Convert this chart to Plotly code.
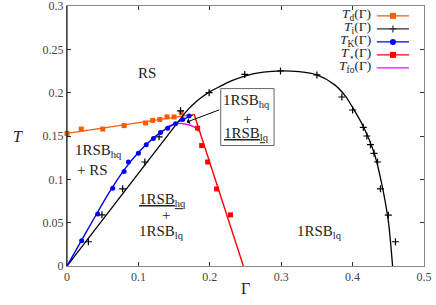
import plotly.graph_objects as go

# ---------------- data ----------------
# T_d(Gamma): points and fitted line
td_g = [0.0, 0.02, 0.05, 0.08, 0.11, 0.12, 0.13, 0.14, 0.15, 0.16]
td_t = [0.153, 0.158, 0.158, 0.162, 0.165, 0.168, 0.169, 0.172, 0.172, 0.177]
td_line_g = [0.0, 0.178]
td_line_t = [0.153, 0.175]

# T_i(Gamma): points and curve
ti_g = [0.03, 0.049, 0.078, 0.109, 0.129, 0.159, 0.199, 0.249, 0.299, 0.35,
        0.385, 0.40, 0.415, 0.42, 0.425, 0.43, 0.435, 0.439, 0.45, 0.46]
ti_t = [0.028, 0.059, 0.089, 0.12, 0.149, 0.179, 0.200, 0.221, 0.225, 0.2205,
        0.195, 0.180, 0.160, 0.150, 0.140, 0.130, 0.120, 0.089, 0.0587, 0.028]
ti_curve_g = [0.0, 0.08, 0.16, 0.17, 0.18, 0.19, 0.2, 0.215, 0.23, 0.25, 0.275,
              0.3, 0.325, 0.35, 0.375, 0.39, 0.40, 0.415, 0.43, 0.44, 0.45, 0.456]
ti_curve_t = [0.0, 0.0855, 0.171, 0.181, 0.189, 0.1955, 0.2012, 0.2075, 0.2135,
              0.2195, 0.2237, 0.2252, 0.2242, 0.2205, 0.209, 0.196, 0.183,
              0.161, 0.131, 0.098, 0.052, 0.0]

# T_K(Gamma): points and curve
tk_g = [0.0205, 0.043, 0.064, 0.080, 0.086, 0.100, 0.111, 0.121, 0.131, 0.141,
        0.152, 0.162, 0.171]
tk_t = [0.029, 0.060, 0.0896, 0.109, 0.120, 0.130, 0.140, 0.147, 0.154, 0.159,
        0.164, 0.169, 0.173]
tk_curve_g = [0.0, 0.02, 0.04, 0.06, 0.08, 0.10, 0.12, 0.14, 0.16, 0.176]
tk_curve_t = [0.0, 0.029, 0.058, 0.086, 0.111, 0.131, 0.147, 0.159, 0.168, 0.174]

# T_star(Gamma): points and line
ts_g = [0.183, 0.1886, 0.197, 0.2096, 0.229]
ts_t = [0.159, 0.139, 0.120, 0.0889, 0.059]
ts_line_g = [0.178, 0.247]
ts_line_t = [0.175, 0.0]

# T_fo(Gamma): curve
tfo_g = [0.138, 0.15, 0.16, 0.17, 0.178, 0.186]
tfo_t = [0.1595, 0.1635, 0.1645, 0.163, 0.1605, 0.155]

x_ticks = [0, 0.1, 0.2, 0.3, 0.4, 0.5]
y_ticks = [0, 0.05, 0.1, 0.15, 0.2, 0.25, 0.3]

ORANGE = "#ff5a00"
BLACK = "#000000"
BLUE = "#0000ff"
RED = "#ff0000"
MAGENTA = "#ff00ff"
FONT = "Liberation Serif"
TXT = "#222222"

fig = go.Figure()

# magenta first (drawn beneath)
fig.add_trace(go.Scatter(x=tfo_g, y=tfo_t, mode="lines", line=dict(color=MAGENTA, width=1.4, shape="spline"), showlegend=False))
# T_d
fig.add_trace(go.Scatter(x=td_line_g, y=td_line_t, mode="lines", line=dict(color=ORANGE, width=1.4), showlegend=False))
fig.add_trace(go.Scatter(x=td_g, y=td_t, mode="markers", marker=dict(symbol="square", size=5, color=ORANGE), cliponaxis=False, showlegend=False))
# T_i
fig.add_trace(go.Scatter(x=ti_curve_g, y=ti_curve_t, mode="lines", line=dict(color=BLACK, width=1.3, shape="spline", smoothing=0.8), showlegend=False))
fig.add_trace(go.Scatter(x=ti_g, y=ti_t, mode="markers", marker=dict(symbol="cross-thin", size=5, line=dict(color=BLACK, width=1.2)), showlegend=False))
# T_K
fig.add_trace(go.Scatter(x=tk_curve_g, y=tk_curve_t, mode="lines", line=dict(color=BLUE, width=1.4, shape="spline"), showlegend=False))
fig.add_trace(go.Scatter(x=tk_g, y=tk_t, mode="markers", marker=dict(symbol="circle", size=5, color=BLUE), showlegend=False))
# T_star
fig.add_trace(go.Scatter(x=ts_line_g, y=ts_line_t, mode="lines", line=dict(color=RED, width=1.4), showlegend=False))
fig.add_trace(go.Scatter(x=ts_g, y=ts_t, mode="markers", marker=dict(symbol="square", size=5, color=RED), showlegend=False))

# ---------------- custom legend (symbol right of text) ----------------
leg_labels = ["<i>T</i><sub>d</sub>(Γ)", "<i>T</i><sub>i</sub>(Γ)", "<i>T</i><sub>K</sub>(Γ)",
              "<i>T</i><sub>⋆</sub>(Γ)", "<i>T</i><sub>fo</sub>(Γ)"]
leg_colors = [ORANGE, "#333333", BLUE, RED, MAGENTA]
leg_symbols = ["square", "cross-thin", "circle", "square", None]
leg_y = [0.962, 0.912, 0.862, 0.812, 0.762]
lx0, lxm, lx1, ltext = 0.868, 0.913, 0.958, 0.857
for lab_, col, sym, yy in zip(leg_labels, leg_colors, leg_symbols, leg_y):
    fig.add_trace(go.Scatter(x=[lx0, lx1], y=[yy, yy], mode="lines", line=dict(color=col, width=1.4),
                             xaxis="x2", yaxis="y2", showlegend=False, hoverinfo="skip"))
    if sym is not None:
        if sym == "cross-thin":
            mk = dict(symbol=sym, size=5, line=dict(color=col, width=1.2))
        else:
            mk = dict(symbol=sym, size=6, color=col)
        fig.add_trace(go.Scatter(x=[lxm], y=[yy], mode="markers", marker=mk,
                                 xaxis="x2", yaxis="y2", showlegend=False, hoverinfo="skip"))
    fig.add_annotation(x=ltext, y=yy + 0.006, xref="x2", yref="y2", text=lab_, showarrow=False,
                       xanchor="right", yanchor="middle", font=dict(family=FONT, size=13.5, color=TXT))

# ---------------- region labels ----------------
def lab(x, y, text, xanchor="center", size=15):
    fig.add_annotation(x=x, y=y, xref="x", yref="y", text=text, showarrow=False,
                       xanchor=xanchor, yanchor="middle", font=dict(family=FONT, size=size, color=TXT))

lab(0.1127, 0.2225, "RS")
lab(0.0084, 0.1324, "1RSB<sub>hq</sub>", xanchor="left")
lab(0.0112, 0.111, "+ RS", xanchor="left")
lab(0.134, 0.0765, "<u>1RSB<sub>hq</sub></u>")
lab(0.138, 0.059, "+")
lab(0.133, 0.0397, "1RSB<sub>lq</sub>")
lab(0.3536, 0.0397, "1RSB<sub>lq</sub>")
# boxed label
lab(0.252, 0.1904, "1RSB<sub>hq</sub>")
lab(0.252, 0.170, "+")
lab(0.252, 0.152, "<u>1RSB<sub>lq</sub></u>")
fig.add_shape(type="rect", xref="x", yref="y", x0=0.2153, x1=0.290, y0=0.139, y1=0.2047,
              line=dict(color="#666666", width=1))
# arrow
fig.add_annotation(x=0.1676, y=0.166, ax=0.2153, ay=0.1808, xref="x", yref="y", axref="x", ayref="y",
                   text="", showarrow=True, arrowhead=1, arrowsize=1, arrowwidth=1, arrowcolor=BLACK)

# axis titles
fig.add_annotation(x=-0.158, y=0.498, xref="paper", yref="paper", text="<i>T</i>", showarrow=False,
                   font=dict(family=FONT, size=16, color=TXT))
fig.add_annotation(x=0.4986, y=-0.125, xref="paper", yref="paper", text="Γ", showarrow=False,
                   font=dict(family=FONT, size=16, color=TXT))

# black left edge line (zero axis)
fig.add_shape(type="line", xref="paper", yref="paper", x0=0, x1=0, y0=0, y1=1,
              line=dict(color=BLACK, width=1))

axis_common = dict(ticks="inside", ticklen=4, tickcolor="#333333", showline=True, linecolor="#888888",
                   linewidth=1, mirror="ticks", showgrid=False, zeroline=False, automargin=False,
                   ticklabeloverflow="allow",
                   tickfont=dict(family=FONT, size=12, color="#444444"))

fig.update_layout(
    width=436, height=305,
    margin=dict(l=67, r=12, t=6, b=39, autoexpand=False),
    paper_bgcolor="white", plot_bgcolor="white",
    xaxis=dict(range=[0, 0.5], tickvals=x_ticks, ticktext=[str(v) if v else "0" for v in x_ticks],
               **axis_common),
    yaxis=dict(range=[0, 0.3], tickvals=y_ticks, ticktext=[str(v) if v else "0" for v in y_ticks],
               **axis_common),
    xaxis2=dict(overlaying="x", range=[0, 1], visible=False, anchor="y2"),
    yaxis2=dict(overlaying="y", range=[0, 1], visible=False, anchor="x2"),
    showlegend=False,
)

fig.write_html("out.html", config={"displayModeBar": False},
               post_script="document.body.style.margin='0';")
